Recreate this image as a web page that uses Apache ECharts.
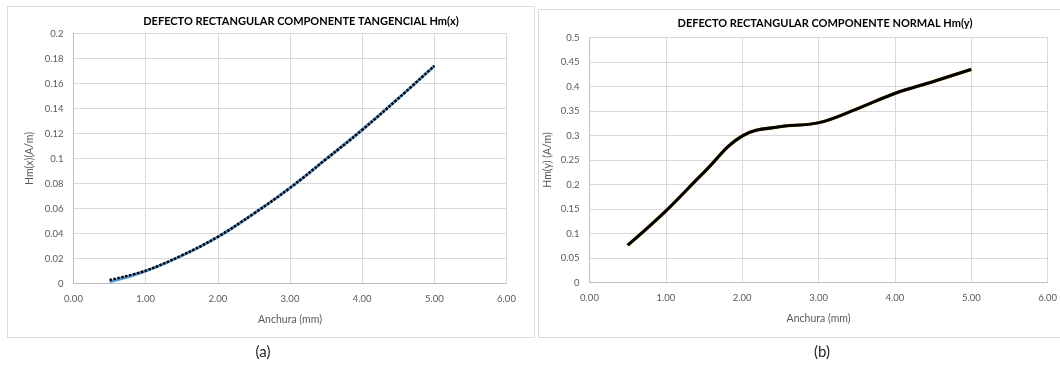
<!DOCTYPE html>
<html>
<head>
<meta charset="utf-8">
<script src="https://cdn.jsdelivr.net/npm/echarts@6/dist/echarts.min.js"></script>
<style>
  html, body { margin: 0; padding: 0; background: #ffffff; }
  #chart { width: 1060px; height: 368px; }
</style>
</head>
<body>
<div id="chart"></div>
<script>
// Defect width (mm) sampled along both curves
const widthMm = [0.5, 1.0, 1.5, 2.0, 2.5, 3.0, 3.5, 4.0, 4.5, 5.0];

// Tangential component Hm(x): measured series and fitted trend
const hmxData  = [0.0014, 0.0100, 0.0222, 0.0372, 0.0560, 0.0765, 0.0995, 0.1230, 0.1480, 0.1740];
const hmxTrend = [0.0028, 0.0103, 0.0225, 0.0374, 0.0560, 0.0765, 0.0995, 0.1228, 0.1480, 0.1742];

// Normal component Hm(y): measured series and fitted trend
const hmyData  = [0.076, 0.146, 0.225, 0.299, 0.318, 0.326, 0.354, 0.386, 0.410, 0.435];
const hmyTrend = [0.076, 0.146, 0.225, 0.299, 0.318, 0.326, 0.354, 0.386, 0.410, 0.435];

// Axis ranges and tick steps
const xRange = { min: 0, max: 6, step: 1 };
const yRangeX = { min: 0, max: 0.2, step: 0.02 };
const yRangeY = { min: 0, max: 0.5, step: 0.05 };

const titles = [
  'DEFECTO RECTANGULAR COMPONENTE TANGENCIAL Hm(x)',
  'DEFECTO RECTANGULAR COMPONENTE NORMAL Hm(y)'
];
const yNames = ['Hm(x)(A/m)', 'Hm(y) (A/m)'];
const xName = 'Anchura (mm)';
const panelTags = ['(a)', '(b)'];

const FONT = 'Lato, "Open Sans", sans-serif';
const GRAY = '#595959';
const GRID = '#D9D9D9';

const pairs = (xs, ys) => xs.map((x, i) => [x, ys[i]]);
const numFmt = v => String(parseFloat(v.toFixed(3)));

function xAxisFor(gridIndex) {
  return {
    type: 'value', gridIndex,
    min: xRange.min, max: xRange.max, interval: xRange.step,
    name: xName, nameLocation: 'middle', nameGap: 31,
    nameTextStyle: { color: GRAY, fontFamily: FONT, fontSize: 10.5 },
    axisLine: { show: true, lineStyle: { color: '#BFBFBF', width: 1 } },
    axisTick: { show: false },
    axisLabel: { color: GRAY, fontFamily: FONT, fontSize: 9.5, margin: 10,
                 formatter: v => v.toFixed(2) },
    splitLine: { show: true, lineStyle: { color: GRID, width: 1 } }
  };
}

function yAxisFor(gridIndex, range, name, gap) {
  return {
    type: 'value', gridIndex,
    min: range.min, max: range.max, interval: range.step,
    name, nameLocation: 'middle', nameGap: gap, nameRotate: 90,
    nameTextStyle: { color: GRAY, fontFamily: FONT, fontSize: 10.5 },
    axisLine: { show: true, lineStyle: { color: '#BFBFBF', width: 1 } },
    axisTick: { show: false },
    axisLabel: { color: GRAY, fontFamily: FONT, fontSize: 9.5, margin: 10,
                 formatter: numFmt },
    splitLine: { show: true, lineStyle: { color: GRID, width: 1 } }
  };
}

const chart = echarts.init(document.getElementById('chart'), null, { renderer: 'canvas' });

chart.setOption({
  animation: false,
  backgroundColor: '#ffffff',
  title: [
    { text: titles[0], left: 296, top: 11, textAlign: 'center',
      textStyle: { fontFamily: FONT, fontSize: 11, fontWeight: 'bold', color: '#000' } },
    { text: titles[1], left: 820, top: 13, textAlign: 'center',
      textStyle: { fontFamily: FONT, fontSize: 11, fontWeight: 'bold', color: '#000' } }
  ],
  graphic: [
    { type: 'rect', shape: { x: 7.5, y: 6.5, width: 527, height: 331 },
      style: { fill: 'none', stroke: GRID, lineWidth: 1 }, z: -1 },
    { type: 'rect', shape: { x: 538.5, y: 9.5, width: 540, height: 328 },
      style: { fill: 'none', stroke: GRID, lineWidth: 1 }, z: -1 },
    { type: 'text', x: 263, y: 352,
      style: { text: panelTags[0], fontFamily: FONT, fontSize: 15, fill: '#262626',
               textAlign: 'center', textVerticalAlign: 'middle' } },
    { type: 'text', x: 822, y: 352,
      style: { text: panelTags[1], fontFamily: FONT, fontSize: 15, fill: '#262626',
               textAlign: 'center', textVerticalAlign: 'middle' } }
  ],
  grid: [
    { left: 73.5, top: 33.5, width: 433, height: 250 },
    { left: 589.5, top: 37.5, width: 462.5, height: 245 }
  ],
  xAxis: [xAxisFor(0), xAxisFor(1)],
  yAxis: [
    yAxisFor(0, yRangeX, yNames[0], 38),
    yAxisFor(1, yRangeY, yNames[1], 36)
  ],
  series: [
    { type: 'line', xAxisIndex: 0, yAxisIndex: 0, data: pairs(widthMm, hmxData),
      smooth: 0.4, showSymbol: false, lineStyle: { color: '#5B9BD5', width: 3 }, z: 2 },
    { type: 'line', xAxisIndex: 0, yAxisIndex: 0, data: pairs(widthMm, hmxTrend),
      smooth: 0.4, showSymbol: false, lineStyle: { color: '#000000', width: 2.5, type: [2.5, 1.5] }, z: 3 },
    { type: 'line', xAxisIndex: 1, yAxisIndex: 1, data: pairs(widthMm, hmyData),
      smooth: 0.4, showSymbol: false, lineStyle: { color: '#7F6000', width: 3.3 }, z: 2 },
    { type: 'line', xAxisIndex: 1, yAxisIndex: 1, data: pairs(widthMm, hmyTrend),
      smooth: 0.4, showSymbol: false, lineStyle: { color: '#000000', width: 2.8 }, z: 3 }
  ]
});
</script>
</body>
</html>
